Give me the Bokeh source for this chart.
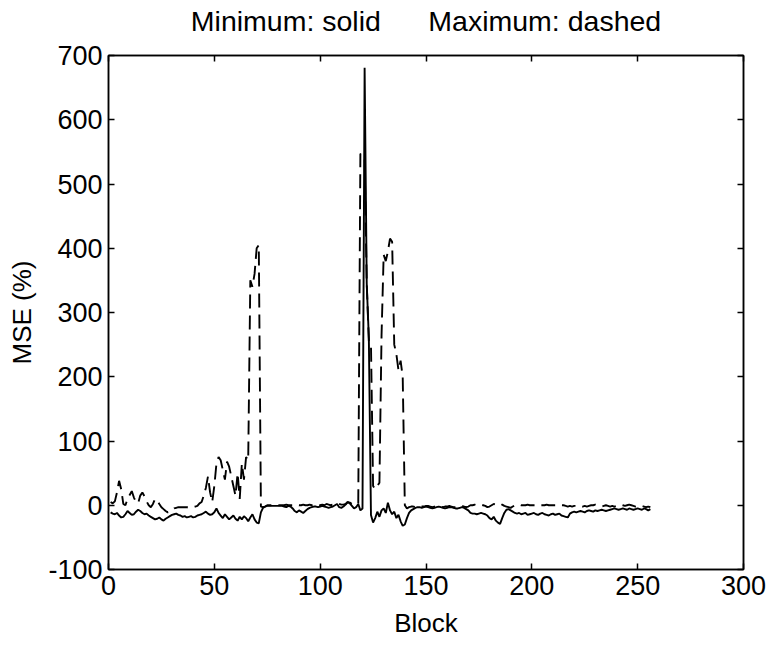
from bokeh.plotting import figure
from bokeh.layouts import column
from bokeh.models import LinearAxis, Range1d, FixedTicker, Label
from bokeh.embed import file_html
from bokeh.resources import INLINE

# Block index (1..256)
blocks = list(range(1, 257))

# Minimum MSE (%) - solid line
mse_min = [
    -11, -13, -14, -12, -16, -19, -18, -14, -9, -12,
    -15, -14, -10, -7, -9, -12, -14, -13, -16, -18,
    -20, -22, -21, -19, -22, -24, -21, -19, -17, -15,
    -14, -13, -15, -16, -18, -17, -19, -18, -17, -19,
    -18, -16, -15, -14, -12, -10, -13, -15, -14, -11,
    -5, -12, -16, -20, -14, -18, -22, -19, -16, -21,
    -24, -18, -22, -17, -20, -25, -19, -14, -22, -27,
    -28, -11, -4, -2, -1, -1, -1, -1, -1, -1,
    -1, -1, -2, -3, -1, -2, -5, -9, -11, -8,
    -10, -12, -9, -6, -4, -3, -2, -2, -3, -2,
    -1, -2, -3, -4, -3, -2, 0, 2, -3, -4,
    -2, 1, 5, 3, -1, -5, -3, 2, -8, -5,
    681, 345, 260, -15, -27, -20, -10, -18, -8, -5,
    -12, 4, -8, -14, -10, -20, -15, -25, -32, -30,
    -20, -12, -8, -6, -4, -3, -3, -4, -3, -2,
    -3, -4, -5, -4, -3, -2, -3, -4, -5, -4,
    -3, -3, -4, -5, -5, -4, -3, -4, -6, -8,
    -12, -13, -13, -14, -13, -12, -13, -14, -16, -20,
    -22, -18, -24, -27, -29, -20, -12, -7, -6, -8,
    -10, -12, -13, -12, -14, -13, -12, -15, -14, -13,
    -12, -14, -15, -13, -12, -14, -15, -16, -14, -13,
    -15, -14, -13, -16, -17, -18, -19, -13, -11, -10,
    -11, -10, -9, -10, -11, -9, -8, -9, -10, -8,
    -9, -8, -7, -8, -9, -8, -7, -6, -5, -6,
    -7, -6, -5, -6, -7, -5, -6, -7, -6, -5,
    -6, -7, -5, -6, -8, -6,
]

# Maximum MSE (%) - dashed line
mse_max = [
    5, 3, 6, 20, 38, 25, 2, 0, 10, 16,
    22, 12, 5, 3, 15, 20, 14, 6, 0, -3,
    2, 10, 8, 2, -3, -6, -9, -11, -10, -8,
    -5, -4, -3, -3, -3, -3, -3, -4, -3, -3,
    -2, -1, 3, 5, 15, 27, 45, 20, 5, 30,
    65, 75, 70, 55, 40, 68, 60, 45, 30, 15,
    50, 10, 65, 40, 75, 70, 350, 340, 360, 400,
    405, -2, -3, -2, 0, 0, 0, 0, 0, 0,
    0, 0, 0, 1, 0, 0, 0, 1, 1, 0,
    0, 1, 0, 0, 1, 0, 1, 0, 1, 0,
    1, 0, 2, 1, 0, 1, 2, 3, 2, 1,
    1, 2, 5, 4, 2, 1, 1, 3, 547, 545,
    540, 345, 256, 250, 30, 25, 30, 35, 265, 390,
    380, 395, 415, 410, 250, 235, 210, 225, 200, 0,
    -5, -3, -2, -2, -3, -2, -1, -2, -2, -1,
    -1, -2, -3, -2, -1, -1, -2, -3, -2, -2,
    -1, -2, -3, -3, -2, -2, -1, -2, -3, -2,
    0, 0, 1, 0, 0, 1, 0, -1, -3, -2,
    0, 2, 1, -1, 0, 1, -1, -2, -3, -4,
    -2, 0, 0, 1, 0, 0, 0, 1, 0, 0,
    0, 0, 1, 0, 0, 0, 1, 0, 0, 0,
    0, 0, 1, 0, 0, -1, -2, -1, -2, -1,
    -1, -2, -1, -2, -1, -2, -1, 0, 0, 1,
    0, -1, -2, -1, 0, -1, -2, -1, -2, -1,
    0, 1, 0, -1, 0, 1, 0, -1, -2, -1,
    -2, -1, -2, -3, -2, -3,
]

x_ticks = [0, 50, 100, 150, 200, 250, 300]
y_ticks = [-100, 0, 100, 200, 300, 400, 500, 600, 700]
y_tick_labels = {t: str(t) for t in y_ticks}   # plain hyphen-minus, as in the original
title_text = "Minimum: solid\u00a0\u00a0\u00a0\u00a0\u00a0\u00a0Maximum: dashed"

FONT = "Liberation Sans"
BORDER_L, BORDER_R, FRAME_W = 108, 27, 635

# --- title strip (its own small figure, same horizontal frame as the plot) ---
t = figure(
    frame_width=FRAME_W, frame_height=40,
    x_range=Range1d(0, 1), y_range=Range1d(0, 1),
    output_backend="svg", toolbar_location=None,
    min_border_left=BORDER_L, min_border_right=BORDER_R,
    min_border_top=0, min_border_bottom=0,
)
t.axis.visible = False
t.grid.visible = False
t.outline_line_color = None
t.background_fill_color = "white"
t.border_fill_color = "white"
t.add_layout(Label(x=0.5, y=0.5, text=title_text, text_align="center",
                   text_baseline="middle", text_font=FONT,
                   text_font_size="28.5px", text_color="black"))

# --- main plot ---
p = figure(
    frame_width=FRAME_W, frame_height=514,
    x_range=Range1d(0, 300), y_range=Range1d(-100, 700),
    output_backend="svg", toolbar_location=None,
    min_border_left=BORDER_L, min_border_right=BORDER_R,
    min_border_top=15, min_border_bottom=60,
)

p.line(blocks, mse_min, line_color="black", line_width=1.9)
p.line(blocks, mse_max, line_color="black", line_width=1.9, line_dash="14 7")

p.xgrid.visible = False
p.ygrid.visible = False
p.outline_line_color = "black"
p.outline_line_width = 1.5
p.background_fill_color = "white"
p.border_fill_color = "white"

def style_axis(ax, ticks, labels=True):
    ax.ticker = FixedTicker(ticks=ticks)
    ax.major_tick_in = 6
    ax.major_tick_out = 0
    ax.minor_tick_line_color = None
    ax.axis_line_color = "black"
    ax.axis_line_width = 1.5
    ax.major_tick_line_color = "black"
    ax.major_tick_line_width = 1.5
    ax.major_label_text_font = FONT
    ax.major_label_text_font_size = "27px"
    ax.major_label_text_color = "black"
    ax.major_label_standoff = 6
    ax.axis_label_text_font = FONT
    ax.axis_label_text_font_size = "26px"
    ax.axis_label_text_font_style = "normal"
    ax.axis_label_text_color = "black"
    if not labels:
        ax.major_label_text_font_size = "0px"
        ax.major_label_text_color = None
        ax.major_label_standoff = 0

style_axis(p.xaxis[0], x_ticks)
style_axis(p.yaxis[0], y_ticks)
p.yaxis[0].major_label_overrides = y_tick_labels
p.xaxis[0].axis_label = "Block"
p.xaxis[0].axis_label_standoff = 10
p.yaxis[0].axis_label = "MSE (%)"
p.yaxis[0].axis_label_standoff = 8

top = LinearAxis()
style_axis(top, x_ticks, labels=False)
p.add_layout(top, "above")
right = LinearAxis()
style_axis(right, y_ticks, labels=False)
p.add_layout(right, "right")

layout = column(t, p, spacing=0)
open("out.html", "w").write(file_html(layout, INLINE))
